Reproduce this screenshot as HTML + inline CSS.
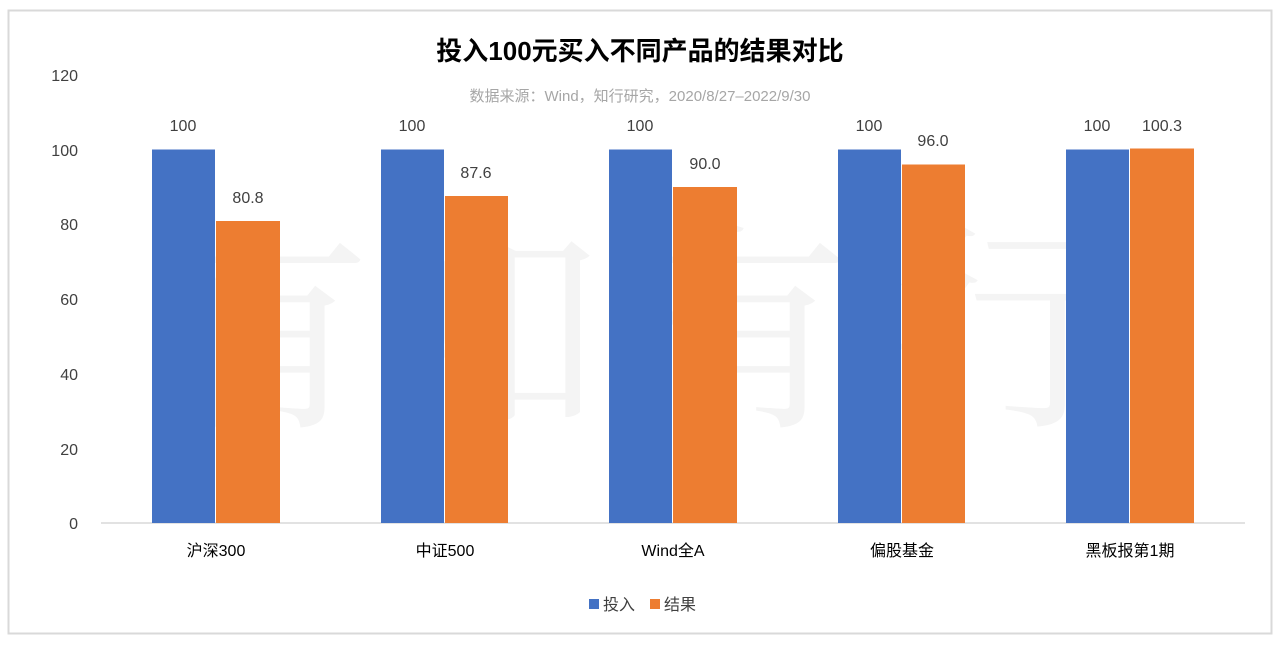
<!DOCTYPE html>
<html><head><meta charset="utf-8"><style>
body{margin:0;background:#fff;}
svg text{font-family:"Liberation Sans","Noto Sans CJK SC",sans-serif;}
</style></head><body>
<svg width="1280" height="646" xmlns="http://www.w3.org/2000/svg">
<rect x="0" y="0" width="1280" height="646" fill="#fff"/>
<rect x="8.5" y="10.5" width="1263" height="623" fill="#fff" stroke="#d9d9d9" stroke-width="2"/>
<g fill="#f4f4f4" font-size="225">
<text x="145" y="410" style="font-family:'Noto Serif CJK SC',serif">有</text>
<text x="375" y="410" style="font-family:'Noto Serif CJK SC',serif">知</text>
<text x="625" y="410" style="font-family:'Noto Serif CJK SC',serif">有</text>
<text x="890" y="410" style="font-family:'Noto Serif CJK SC',serif">行</text>
</g>
<text x="640" y="60" text-anchor="middle" font-size="26" font-weight="bold" fill="#000">投入100元买入不同产品的结果对比</text>
<text x="640" y="101" text-anchor="middle" font-size="15" fill="#a6a6a6">数据来源：Wind，知行研究，2020/8/27–2022/9/30</text>
<g font-size="16" fill="#404040" text-anchor="end">
<text x="78" y="81">120</text><text x="78" y="156">100</text><text x="78" y="230">80</text>
<text x="78" y="305">60</text><text x="78" y="380">40</text><text x="78" y="455">20</text><text x="78" y="529">0</text>
</g>
<line x1="101" y1="523" x2="1245" y2="523" stroke="#d9d9d9" stroke-width="1.5"/>
<g>
<rect x="152" y="149.5" width="63" height="373.5" fill="#4472c4"/><rect x="216" y="221" width="64" height="302" fill="#ed7d31"/>
<rect x="381" y="149.5" width="63" height="373.5" fill="#4472c4"/><rect x="445" y="196" width="63" height="327" fill="#ed7d31"/>
<rect x="609" y="149.5" width="63" height="373.5" fill="#4472c4"/><rect x="673" y="187" width="64" height="336" fill="#ed7d31"/>
<rect x="838" y="149.5" width="63" height="373.5" fill="#4472c4"/><rect x="902" y="164.5" width="63" height="358.5" fill="#ed7d31"/>
<rect x="1066" y="149.5" width="63" height="373.5" fill="#4472c4"/><rect x="1130" y="148.5" width="64" height="374.5" fill="#ed7d31"/>
</g>
<g font-size="16" fill="#404040" text-anchor="middle">
<text x="183" y="131">100</text><text x="248" y="203">80.8</text>
<text x="412" y="131">100</text><text x="476" y="178">87.6</text>
<text x="640" y="131">100</text><text x="705" y="169">90.0</text>
<text x="869" y="131">100</text><text x="933" y="146">96.0</text>
<text x="1097" y="131">100</text><text x="1162" y="131">100.3</text>
</g>
<g font-size="16" fill="#000" text-anchor="middle">
<text x="216" y="556">沪深300</text><text x="445" y="556">中证500</text><text x="673" y="556">Wind全A</text>
<text x="902" y="556">偏股基金</text><text x="1130" y="556">黑板报第1期</text>
</g>
<rect x="589" y="599" width="10" height="10" fill="#4472c4"/>
<text x="603" y="610" font-size="16" fill="#404040">投入</text>
<rect x="650" y="599" width="10" height="10" fill="#ed7d31"/>
<text x="664" y="610" font-size="16" fill="#404040">结果</text>
</svg>
</body></html>
